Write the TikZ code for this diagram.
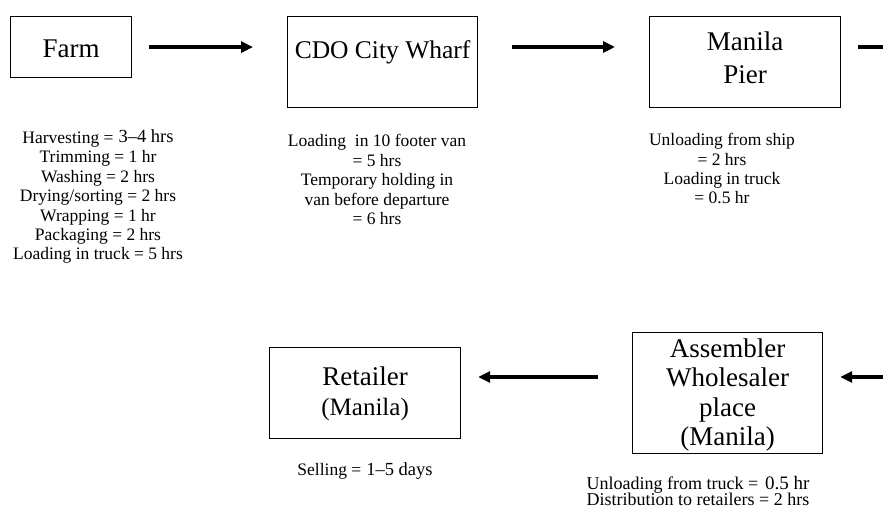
\documentclass[tikz,border=0pt]{standalone}
\usepackage{fontspec}
\setmainfont{Liberation Serif}
\usetikzlibrary{arrows.meta}
\begin{document}
\begin{tikzpicture}[x=1pt,y=-1pt,
  stage/.style={draw, line width=1.2pt, inner sep=0pt, align=center,
    anchor=north west, font=\fontsize{27}{30}\selectfont},
  note/.style={align=center, anchor=base, inner sep=0pt,
    font=\fontsize{17.5}{19.4}\selectfont},
  flow/.style={line width=4.5pt, -{Triangle[length=12pt,width=11pt]}},
  flowline/.style={line width=4.5pt}]
\useasboundingbox (0,0) rectangle (883,510);

% stages of the chain (text height = top of box to last baseline)
\node[stage, minimum width=121pt, minimum height=61pt,
      text height=41pt, text depth=20pt] (farm) at (10,16) {Farm};
\node[stage, minimum width=190pt, minimum height=91pt,
      text height=42pt, text depth=49pt, font=\fontsize{25.5}{30}\selectfont]
      (cdo) at (287,16) {CDO City Wharf};
\node[stage, minimum width=191pt, minimum height=91pt,
      text height=67pt, text depth=24pt, font=\fontsize{27}{33}\selectfont]
      (pier) at (649,16) {Manila\\Pier};
\node[stage, minimum width=191pt, minimum height=91pt,
      text height=68pt, text depth=23pt] (ret) at (269,347)
      {Retailer\\{\fontsize{25}{30}\selectfont(Manila)}};
\node[stage, minimum width=190pt, minimum height=121pt,
      text height=113pt, text depth=8pt, font=\fontsize{27}{29.5}\selectfont]
      (asm) at (632,332) {Assembler\\Wholesaler\\place\\(Manila)};

% time notes (placed by the baseline of their last line)
\node[note] (farmN) at (98,260) {Harvesting =\hspace{5pt}\raisebox{1.5pt}{\fontsize{18.5}{19}\selectfont 3–4 hrs}\\
  Trimming = 1 hr\\Washing = 2 hrs\\Drying/sorting = 2 hrs\\Wrapping = 1 hr\\
  Packaging = 2 hrs\\Loading in truck = 5 hrs};
\node[note, font=\fontsize{17.5}{19.5}\selectfont] (cdoN) at (377,225)
  {Loading\ \ in 10 footer van\\= 5 hrs\\Temporary holding in\\van before departure\\= 6 hrs};
\node[note] (pierN) at (722,204)
  {Unloading from ship\\= 2 hrs\\Loading in truck\\= 0.5 hr};
\node[note] (retN) at (365,475)
  {Selling =\hspace{5pt}{\fontsize{18.5}{19}\selectfont 1–5 days}};
\node[note, font=\fontsize{18}{16.5}\selectfont] (asmN) at (698,505.5)
  {Unloading from truck =\hspace{7pt}{\fontsize{19}{16.5}\selectfont 0.5 hr}\\Distribution to retailers = 2 hrs};

% flow arrows
\coordinate (r1) at (883,47);
\coordinate (r2) at (883,377);
\draw[flow, shorten <=17pt, shorten >=34pt] (farm.east) -- (farm.east -| cdo.west);
\draw[flow, shorten <=34pt, shorten >=34pt] (cdo.east |- r1) -- (pier.west |- r1);
\draw[flowline, shorten <=17pt] (pier.east |- r1) -- (r1);
\draw[flow, shorten >=17pt] (r2) -- (asm.east |- r2);
\draw[flow, shorten <=34pt, shorten >=17pt] (asm.west |- r2) -- (ret.east |- r2);
\end{tikzpicture}
\end{document}
